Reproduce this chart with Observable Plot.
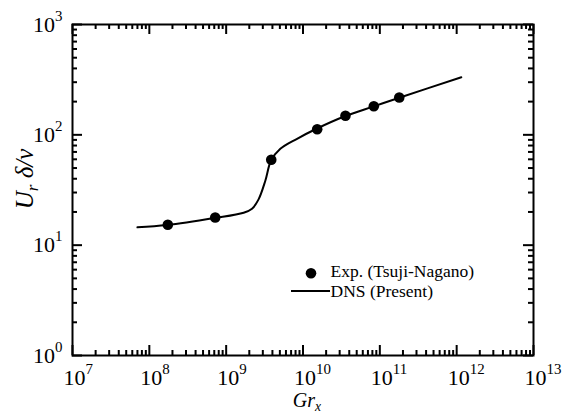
<!DOCTYPE html>
<html>
<head>
<meta charset="utf-8">
<script src="https://cdn.jsdelivr.net/npm/d3@7"></script>
<script src="https://cdn.jsdelivr.net/npm/@observablehq/plot@0.6"></script>
<style>
  html, body { margin: 0; padding: 0; background: #fff; }
  #chart svg { display: block; }
</style>
</head>
<body>
<div id="chart"></div>
<script>
// Experimental points (Tsuji & Nagano)
const expGr = [1.74e8, 7.2e8, 3.86e9, 1.53e10, 3.57e10, 8.35e10, 1.79e11];
const expU  = [15.3, 17.8, 59.4, 112.5, 148.8, 181.8, 218];

// DNS curve (present study)
const dnsGr = [7.0e7, 1.7e8, 7.0e8, 1.69e9, 2.17e9, 2.64e9, 3.24e9, 3.84e9, 5.07e9, 8.37e9, 1.5e10, 3.57e10, 8.35e10, 1.79e11, 1.15e12];
const dnsU  = [14.5, 15.2, 17.6, 19.7, 21.4, 26.0, 38.6, 58.5, 74.7, 92.1, 113.5, 148, 181, 217, 333];

// Axis decades (exponents of ten)
const xDecades = [7, 8, 9, 10, 11, 12, 13];
const yDecades = [0, 1, 2, 3];

const legendLabels = ["Exp. (Tsuji-Nagano)", "DNS (Present)"];
const xTitle = "Gr_{x}";
const yTitle = "U_{r} δ/ν";

const exp = expGr.map((gr, i) => ({gr, u: expU[i]}));
const dns = dnsGr.map((gr, i) => ({gr, u: dnsU[i]}));

const minors = (decs) => decs.slice(0, -1).flatMap(e => [2, 3, 4, 5, 6, 7, 8, 9].map(m => m * 10 ** e));
const xMajor = xDecades.map(e => 10 ** e);
const yMajor = yDecades.map(e => 10 ** e);
const xMinor = minors(xDecades);
const yMinor = minors(yDecades);

const W = 570, H = 414;
const M = {top: 24, right: 37, bottom: 59, left: 72};
const frameW = W - M.left - M.right;
const frameH = H - M.top - M.bottom;

const serif = "'Liberation Serif', 'Times New Roman', Times, serif";
const tickStroke = {stroke: "black", strokeWidth: 2};

// short inward ticks along each side of the frame
const ticksX = (values, len) => [
  Plot.tickX(values, {x: d => d, insetTop: frameH - len, ...tickStroke}),
  Plot.tickX(values, {x: d => d, insetBottom: frameH - len, ...tickStroke})
];
const ticksY = (values, len) => [
  Plot.tickY(values, {y: d => d, insetRight: frameW - len, ...tickStroke}),
  Plot.tickY(values, {y: d => d, insetLeft: frameW - len, ...tickStroke})
];

const chart = Plot.plot({
  width: W,
  height: H,
  marginLeft: M.left,
  marginRight: M.right,
  marginTop: M.top,
  marginBottom: M.bottom,
  x: {type: "log", domain: [1e7, 1e13], axis: null},
  y: {type: "log", domain: [1, 1e3], axis: null},
  marks: [
    Plot.frame({strokeWidth: 2, stroke: "black", fill: "none"}),

    ...ticksX(xMajor, 10), ...ticksX(xMinor, 5),
    ...ticksY(yMajor, 10), ...ticksY(yMinor, 5),

    // tick labels as powers of ten
    Plot.text(xDecades, {x: e => 10 ** e, text: e => `10^{${e}}`, frameAnchor: "bottom",
      textAnchor: "start", lineAnchor: "bottom", dx: -9, dy: 29, fontSize: 22, fontFamily: serif, fill: "black"}),
    Plot.text(yDecades, {y: e => 10 ** e, text: e => `10^{${e}}`, frameAnchor: "left",
      textAnchor: "end", lineAnchor: "bottom", dx: -10, dy: 7, fontSize: 22, fontFamily: serif, fill: "black"}),

    // axis titles
    Plot.text([xTitle], {frameAnchor: "bottom", text: d => d, textAnchor: "middle",
      lineAnchor: "bottom", dx: 4, dy: 51, fontSize: 20, fontStyle: "italic", fontFamily: serif, fill: "black"}),
    Plot.text([yTitle], {frameAnchor: "left", text: d => d, textAnchor: "middle",
      lineAnchor: "middle", rotate: -90, dx: -48, dy: -11, fontSize: 25, fontStyle: "italic", fontFamily: serif, fill: "black"}),

    // data
    Plot.line(dns, {x: "gr", y: "u", curve: "catmull-rom", strokeWidth: 2, stroke: "black"}),
    Plot.dot(exp, {x: "gr", y: "u", r: 5.3, fill: "black", stroke: "none"}),

    // legend
    Plot.dot([legendLabels[0]], {x: null, y: null, frameAnchor: "top-left", dx: 238.5, dy: 248.7,
      r: 5.3, fill: "black", stroke: "none"}),
    Plot.text([legendLabels[0]], {frameAnchor: "top-left", text: d => d, textAnchor: "start",
      lineAnchor: "bottom", dx: 258, dy: 252.5, fontSize: 17.5, fontFamily: serif, fill: "black"}),
    Plot.ruleY([legendLabels[1]], {y: null, insetLeft: 219, insetRight: 203, dy: 101,
      strokeWidth: 2, stroke: "black"}),
    Plot.text([legendLabels[1]], {frameAnchor: "top-left", text: d => d, textAnchor: "start",
      lineAnchor: "bottom", dx: 258, dy: 272, fontSize: 17.5, fontFamily: serif, fill: "black"})
  ]
});

document.getElementById("chart").appendChild(chart);

// Turn ^{..} and _{..} markup into superscript / subscript tspans
d3.select(chart).selectAll("text").each(function () {
  const s = this.textContent;
  if (!/[\^_]\{/.test(s)) return;
  const fs = parseFloat(getComputedStyle(this).fontSize);
  const parts = s.split(/([\^_])\{([^}]*)\}/);
  const el = d3.select(this);
  this.textContent = "";
  let cur = 0;
  for (let i = 0; i < parts.length; i += 3) {
    if (parts[i]) {
      const t = el.append("tspan").text(parts[i]);
      if (cur !== 0) t.attr("dy", -cur);
      cur = 0;
    }
    if (i + 1 < parts.length) {
      const off = parts[i + 1] === "^" ? -0.5 * fs : 0.22 * fs;
      el.append("tspan").attr("dy", off - cur).attr("font-size", 0.68 * fs).text(parts[i + 2]);
      cur = off;
    }
  }
});
</script>
</body>
</html>
